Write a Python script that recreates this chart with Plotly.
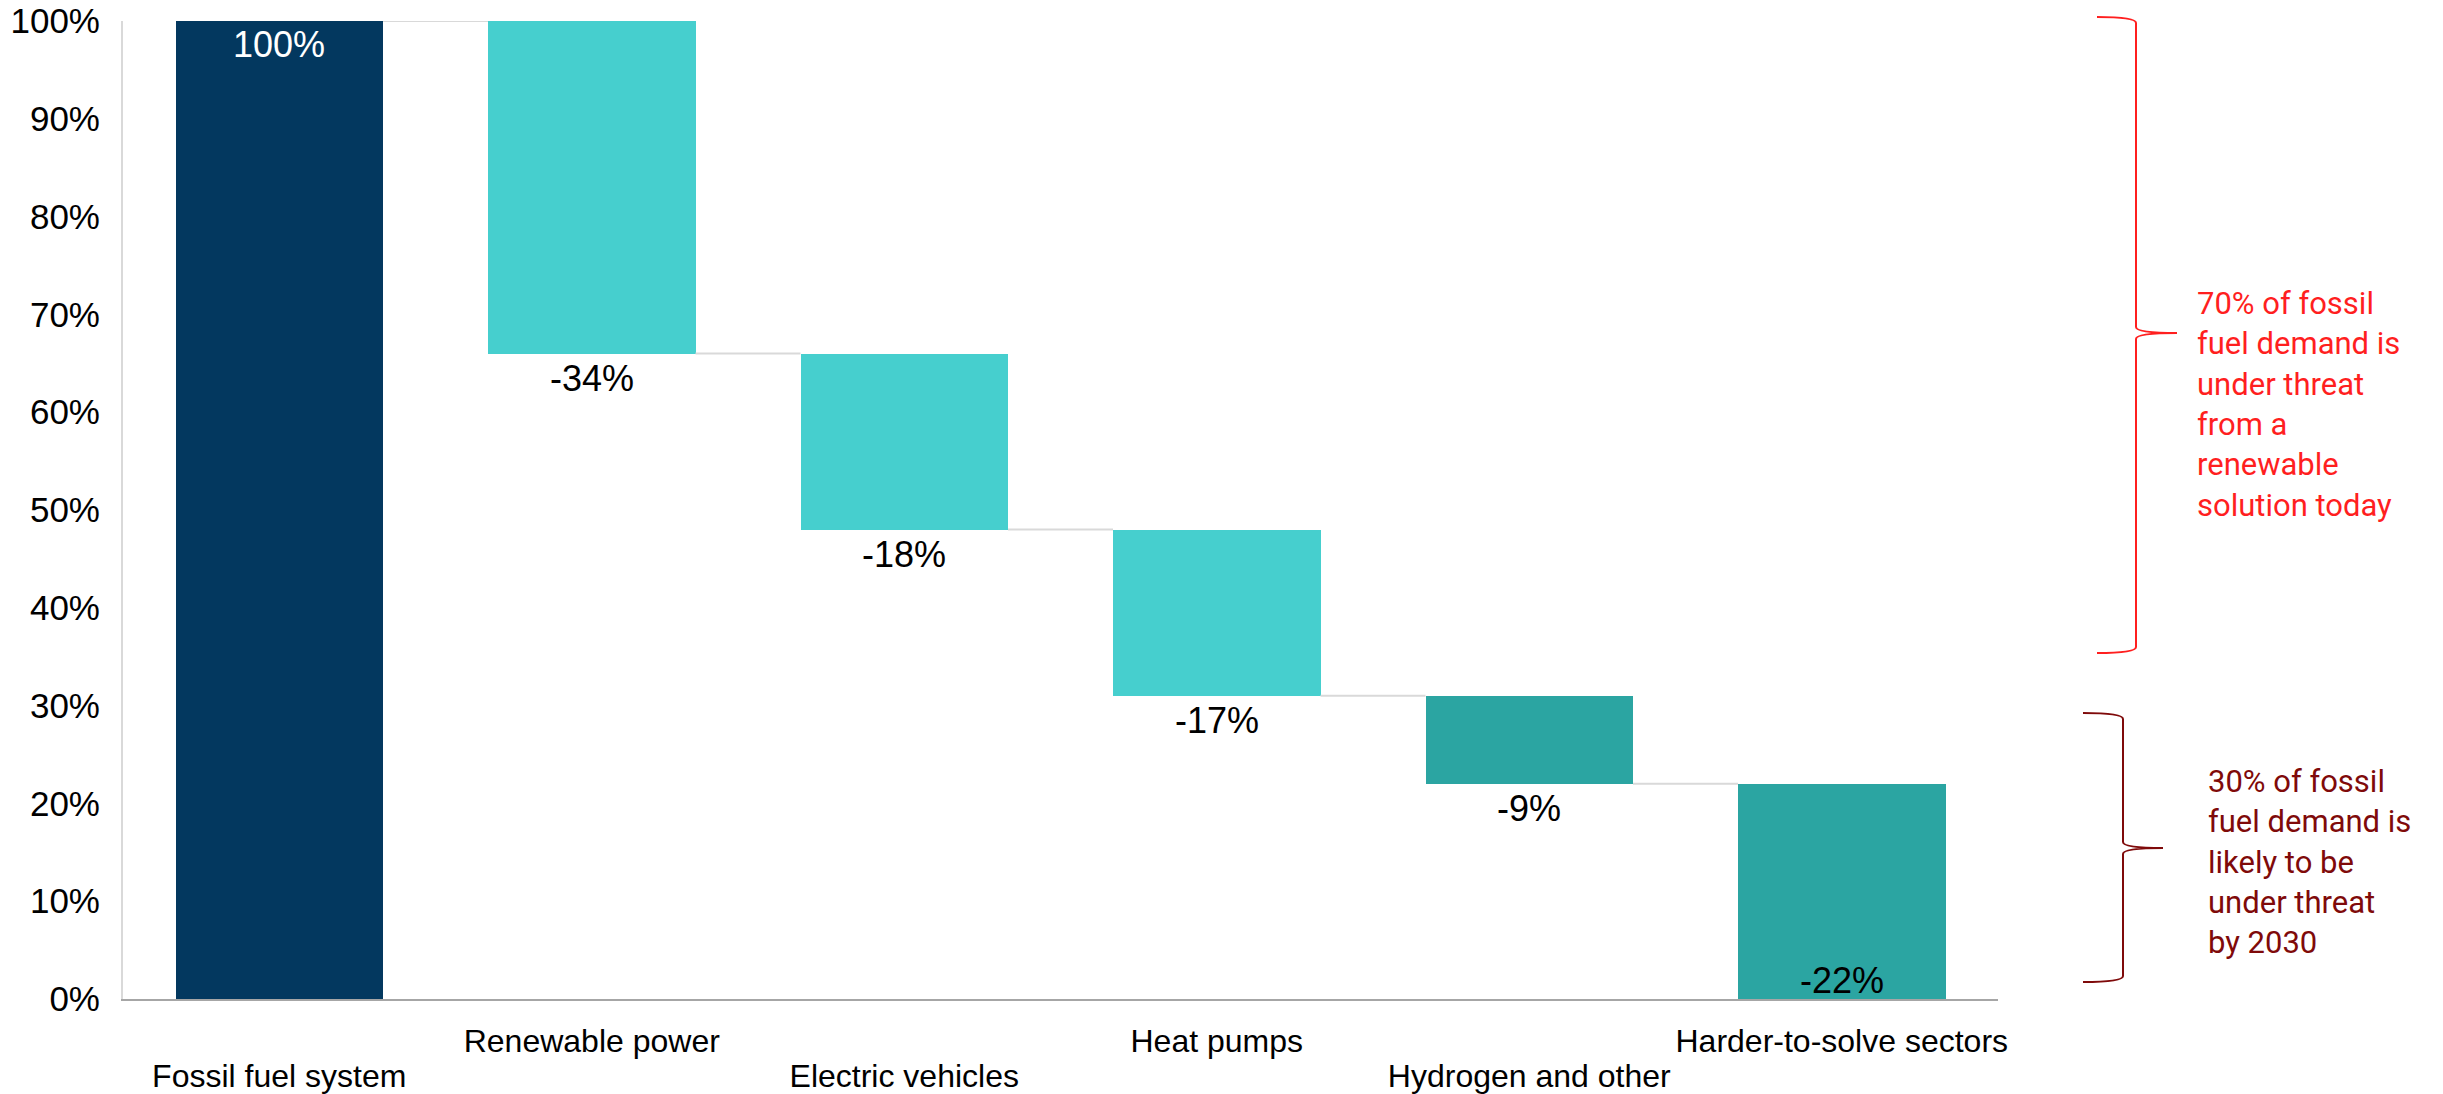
import plotly.graph_objects as go

# Waterfall data: share of fossil fuel demand (%)
categories = [
    "Fossil fuel system",
    "Renewable power",
    "Electric vehicles",
    "Heat pumps",
    "Hydrogen and other",
    "Harder-to-solve sectors",
]
changes = [100, -34, -18, -17, -9, -22]
y_ticks = list(range(0, 101, 10))

note_today = "70% of fossil<br>fuel demand is<br>under threat<br>from a<br>renewable<br>solution today"
note_2030 = "30% of fossil<br>fuel demand is<br>likely to be<br>under threat<br>by 2030"

# Styling
bar_colors = ["#03385F", "#46CFCE", "#46CFCE", "#46CFCE", "#2BA5A2", "#2BA5A2"]
BAR_W = 0.664
W, H = 2443, 1094
L, R, T, B = 123, 445, 21, 95
PLOT_W = W - L - R
PLOT_H = H - T - B
TEXT_FONT = "Liberation Sans, Arial, sans-serif"
RED = "#FF1F1F"
DARK_RED = "#7F0A0A"

# Running levels of the waterfall
levels, bases, heights = [], [], []
prev = 0
for v in changes:
    cur = prev + v
    levels.append(cur)
    bases.append(min(prev, cur))
    heights.append(abs(v))
    prev = cur

xs = list(range(len(categories)))

fig = go.Figure()

# Connector lines between consecutive bars
cx, cy = [], []
for i in range(len(categories) - 1):
    cx += [xs[i] + BAR_W / 2, xs[i + 1] - BAR_W / 2, None]
    cy += [levels[i], levels[i], None]
fig.add_trace(go.Scatter(
    x=cx, y=cy, mode="lines",
    line=dict(color="#D9D9D9", width=2),
    hoverinfo="skip", showlegend=False,
))

fig.add_trace(go.Bar(
    x=xs, y=heights, base=bases, width=BAR_W,
    marker=dict(color=bar_colors, line=dict(width=0)),
    hoverinfo="skip", showlegend=False,
))

# Empty trace so the second (lower-row label) x axis is drawn
fig.add_trace(go.Scatter(x=[None], y=[None], xaxis="x2", yaxis="y",
                         mode="markers", hoverinfo="skip", showlegend=False))

# Value labels
annotations = []
last = len(changes) - 1
for i, v in enumerate(changes):
    label = f"{v}%"
    if i == 0:
        annotations.append(dict(x=xs[i], y=levels[i], text=label, showarrow=False,
                                yanchor="top", yshift=-1,
                                font=dict(family=TEXT_FONT, size=36, color="white")))
    elif i == last:
        annotations.append(dict(x=xs[i], y=0, text=label, showarrow=False,
                                yanchor="bottom", yshift=-4,
                                font=dict(family=TEXT_FONT, size=36, color="black")))
    else:
        annotations.append(dict(x=xs[i], y=levels[i], text=label, showarrow=False,
                                yanchor="top", yshift=-2,
                                font=dict(family=TEXT_FONT, size=36, color="black")))


def px_x(p):
    return (p - L) / PLOT_W


def px_y(p):
    return (T + PLOT_H - p) / PLOT_H


def brace(x0, x1, x2, yt, ym, yb, r=6):
    pts = [
        ("M", [(x0, yt)]),
        ("Q", [(x1, yt), (x1, yt + r)]),
        ("L", [(x1, ym - r)]),
        ("Q", [(x1, ym), (x2, ym)]),
        ("Q", [(x1, ym), (x1, ym + r)]),
        ("L", [(x1, yb - r)]),
        ("Q", [(x1, yb), (x0, yb)]),
    ]
    out = []
    for cmd, ps in pts:
        out.append(cmd + " " + " ".join(f"{px_x(a):.5f},{px_y(b):.5f}" for a, b in ps))
    return " ".join(out)


shapes = [
    dict(type="path", xref="paper", yref="paper",
         path=brace(2097, 2136, 2177, 17, 333, 653),
         line=dict(color=RED, width=2)),
    dict(type="path", xref="paper", yref="paper",
         path=brace(2083, 2123, 2163, 713, 848, 982),
         line=dict(color=DARK_RED, width=2)),
]

annotations += [
    dict(xref="paper", yref="paper", x=px_x(2195), y=px_y(404),
         xanchor="left", yanchor="middle", align="left", showarrow=False,
         text=note_today, font=dict(family="Roboto, sans-serif", size=31, color=RED)),
    dict(xref="paper", yref="paper", x=px_x(2206), y=px_y(862),
         xanchor="left", yanchor="middle", align="left", showarrow=False,
         text=note_2030, font=dict(family="Roboto, sans-serif", size=31, color=DARK_RED)),
]

# Staggered category labels: odd positions on the upper row, even ones lower
upper = [i for i in xs if i % 2 == 1]
lower = [i for i in xs if i % 2 == 0]
x_range = [-0.5, len(categories) - 0.5]
tick_font = dict(family=TEXT_FONT, size=32, color="black")

fig.update_layout(
    width=W, height=H, autosize=False,
    margin=dict(l=L, r=R, t=T, b=B),
    paper_bgcolor="white", plot_bgcolor="white",
    bargap=0, showlegend=False,
    shapes=shapes, annotations=annotations,
    xaxis=dict(
        range=x_range,
        tickvals=upper, ticktext=[categories[i] for i in upper],
        showgrid=False, zeroline=False,
        showline=True, linecolor="#A6A6A6", linewidth=2,
        ticks="outside", ticklen=13, tickcolor="rgba(0,0,0,0)",
        tickfont=tick_font, automargin=False, fixedrange=True,
    ),
    xaxis2=dict(
        range=x_range, overlaying="x", anchor="y", side="bottom",
        tickvals=lower, ticktext=[categories[i] for i in lower],
        showgrid=False, zeroline=False, showline=False,
        ticks="outside", ticklen=49, tickcolor="rgba(0,0,0,0)",
        tickfont=tick_font, automargin=False, fixedrange=True,
    ),
    yaxis=dict(
        range=[0, 100],
        tickvals=y_ticks, ticktext=[f"{t}%" for t in y_ticks],
        showgrid=False, zeroline=False,
        showline=True, linecolor="#D9D9D9", linewidth=2,
        ticks="outside", ticklen=14, tickcolor="rgba(0,0,0,0)",
        tickfont=dict(family=TEXT_FONT, size=35, color="black"),
        automargin=False, fixedrange=True,
    ),
)

fig.write_html("out.html", config={"displayModeBar": False})
